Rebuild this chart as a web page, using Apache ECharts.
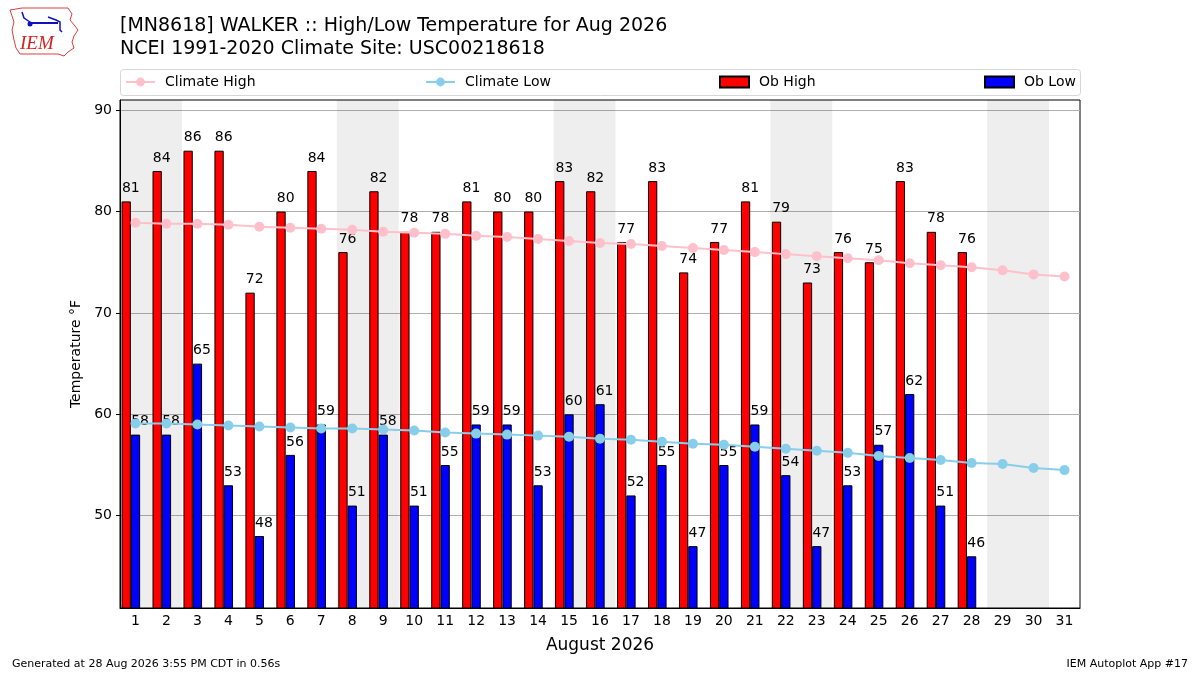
<!DOCTYPE html>
<html>
<head>
<meta charset="utf-8">
<script src="https://cdn.jsdelivr.net/npm/echarts@6/dist/echarts.min.js"></script>
<style>
  html, body { margin: 0; padding: 0; background: #fff; }
  #chart { width: 1200px; height: 675px; }
</style>
</head>
<body>
<div id="chart"></div>
<script>
var days = [];
for (var d = 1; d <= 31; d++) days.push(String(d));

var climateHigh = [78.9, 78.8, 78.8, 78.7, 78.5, 78.4, 78.3, 78.2, 78.0, 77.9,
    77.8, 77.6, 77.5, 77.3, 77.1, 76.9, 76.8, 76.6, 76.4, 76.2,
    76.0, 75.8, 75.6, 75.4, 75.2, 74.9, 74.7, 74.5, 74.2, 73.8, 73.6];
var climateLow = [59.1, 59.1, 59.0, 58.9, 58.8, 58.7, 58.6, 58.6, 58.5, 58.4,
    58.2, 58.1, 58.0, 57.9, 57.8, 57.6, 57.5, 57.3, 57.1, 57.0,
    56.8, 56.6, 56.4, 56.2, 55.9, 55.7, 55.5, 55.2, 55.1, 54.7, 54.5];
var obHigh = [81, 84, 86, 86, 72, 80, 84, 76, 82, 78, 78, 81, 80, 80, 83, 82, 77, 83, 74, 77,
    81, 79, 73, 76, 75, 83, 78, 76];
var obLow = [58, 58, 65, 53, 48, 56, 59, 51, 58, 51, 55, 59, 59, 53, 60, 61, 52, 55, 47, 55,
    59, 54, 47, 53, 57, 62, 51, 46];
var yTicks = [50, 60, 70, 80, 90];
// first day of each weekend (Sat)
var weekendStarts = [1, 8, 15, 22, 29];

var FONT = 'DejaVu Sans';

var weekendAreas = weekendStarts.map(function (s) {
    return [{xAxis: s - 0.5}, {xAxis: s + 1.5}];
});

var barLabel = {
    show: true,
    position: 'top',
    distance: 6,
    offset: [4.6, 0],
    color: '#000',
    fontFamily: FONT,
    fontSize: 14
};

function legendAt(left, name, icon) {
    return {
        left: left,
        top: 75,
        padding: 0,
        itemWidth: 29,
        itemHeight: 11,
        textStyle: {fontFamily: FONT, fontSize: 14, color: '#000', padding: [0, 0, 0, 5]},
        data: [icon ? {name: name, icon: icon} : name]
    };
}

option = {
    backgroundColor: '#fff',
    animation: false,
    title: {
        text: '[MN8618] WALKER :: High/Low Temperature for Aug 2026\nNCEI 1991-2020 Climate Site: USC00218618',
        left: 115,
        top: 10,
        textStyle: {fontFamily: FONT, fontSize: 19, fontWeight: 'normal', color: '#000', lineHeight: 23}
    },
    legend: [
        legendAt(125, 'Climate High'),
        legendAt(425, 'Climate Low'),
        legendAt(719, 'Ob High', 'rect'),
        legendAt(984, 'Ob Low', 'rect')
    ],
    grid: {
        left: 120, right: 120, top: 100, bottom: 67,
        show: true, borderColor: '#000', borderWidth: 1, backgroundColor: 'transparent'
    },
    xAxis: [{
        type: 'category',
        data: days,
        name: 'August 2026',
        nameLocation: 'middle',
        nameGap: 29,
        nameTextStyle: {fontFamily: FONT, fontSize: 17, color: '#000'},
        axisLine: {lineStyle: {color: '#000'}},
        axisTick: {alignWithLabel: true, length: 4, lineStyle: {color: '#000'}},
        axisLabel: {fontFamily: FONT, fontSize: 14, color: '#000', margin: 6, interval: 0}
    }, {
        type: 'value',
        min: 0.5,
        max: 31.5,
        show: false
    }],
    yAxis: {
        type: 'value',
        min: 40.9,
        max: 91,
        name: 'Temperature °F',
        nameLocation: 'middle',
        nameGap: 29,
        nameTextStyle: {fontFamily: FONT, fontSize: 14, color: '#000'},
        axisLine: {show: true, lineStyle: {color: '#000'}},
        axisTick: {show: true, length: 4, lineStyle: {color: '#000'}, customValues: yTicks},
        axisLabel: {fontFamily: FONT, fontSize: 14, color: '#000', margin: 8, customValues: yTicks},
        splitLine: {lineStyle: {color: '#b0b0b0', width: 1}}
    },
    series: [{
        name: 'weekends',
        type: 'line',
        xAxisIndex: 1,
        data: [],
        silent: true,
        markArea: {
            silent: true,
            itemStyle: {color: 'rgba(0,0,0,0.068)'},
            data: weekendAreas
        }
    }, {
        name: 'Ob High',
        type: 'bar',
        data: obHigh,
        barWidth: '30%',
        barGap: '0%',
        itemStyle: {color: '#ff0000', borderColor: '#000', borderWidth: 1},
        label: barLabel,
        z: 3
    }, {
        name: 'Ob Low',
        type: 'bar',
        data: obLow,
        barWidth: '30%',
        barGap: '0%',
        itemStyle: {color: '#0000ff', borderColor: '#000', borderWidth: 1},
        label: barLabel,
        z: 3
    }, {
        // empty third slot so the high/low pair sits left of the day tick
        name: 'spacer',
        type: 'bar',
        data: days.map(function () { return '-'; }),
        barWidth: '30%',
        barGap: '0%',
        silent: true
    }, {
        name: 'Climate High',
        type: 'line',
        data: climateHigh,
        symbol: 'circle',
        symbolSize: 10,
        color: '#ffc0cb',
        lineStyle: {width: 2, color: '#ffc0cb'},
        itemStyle: {color: '#ffc0cb'},
        z: 4
    }, {
        name: 'Climate Low',
        type: 'line',
        data: climateLow,
        symbol: 'circle',
        symbolSize: 10,
        color: '#87ceeb',
        lineStyle: {width: 2, color: '#87ceeb'},
        itemStyle: {color: '#87ceeb'},
        z: 4
    }],
    graphic: [
        // legend frame
        {type: 'rect', left: 120, top: 69, z: -1,
            shape: {width: 960, height: 26, r: 3},
            style: {fill: '#fff', stroke: '#d6d6d6', lineWidth: 1}},
        // IEM logo (rough)
        {type: 'polyline', z: 10,
            shape: {points: [[10, 10], [22, 8], [60, 8], [68, 8], [72, 14], [70, 20], [75, 26],
                [78, 30], [74, 36], [72, 42], [74, 48], [68, 52], [64, 56], [58, 54], [20, 54],
                [16, 48], [14, 40], [12, 30], [14, 22], [10, 10]]},
            style: {fill: 'none', stroke: '#e03c3c', lineWidth: 1}},
        {type: 'polyline', z: 10,
            shape: {points: [[28, 23], [58, 23]]},
            style: {stroke: '#1010c0', lineWidth: 2}},
        {type: 'polyline', z: 10,
            shape: {points: [[22, 12], [24, 18], [30, 22]]},
            style: {stroke: '#1010c0', lineWidth: 1.5, fill: 'none'}},
        {type: 'polyline', z: 10,
            shape: {points: [[48, 17], [56, 20], [60, 22], [60, 30], [62, 32]]},
            style: {stroke: '#1010c0', lineWidth: 1.5, fill: 'none'}},
        {type: 'circle', z: 10, shape: {cx: 30, cy: 24, r: 2.5}, style: {fill: '#1010c0'}},
        {type: 'text', left: 20, top: 34, z: 10,
            style: {text: 'IEM', fill: '#d42020', font: 'italic 19px "Liberation Serif"'}},
        // footer
        {type: 'text', left: 12, top: 659,
            style: {text: 'Generated at 28 Aug 2026 3:55 PM CDT in 0.56s', fill: '#000',
                font: '11px "DejaVu Sans"'}},
        {type: 'text', right: 12, top: 659,
            style: {text: 'IEM Autoplot App #17', fill: '#000', font: '11px "DejaVu Sans"'}}
    ]
};

var chart = echarts.init(document.getElementById('chart'));
chart.setOption(option);
</script>
</body>
</html>
